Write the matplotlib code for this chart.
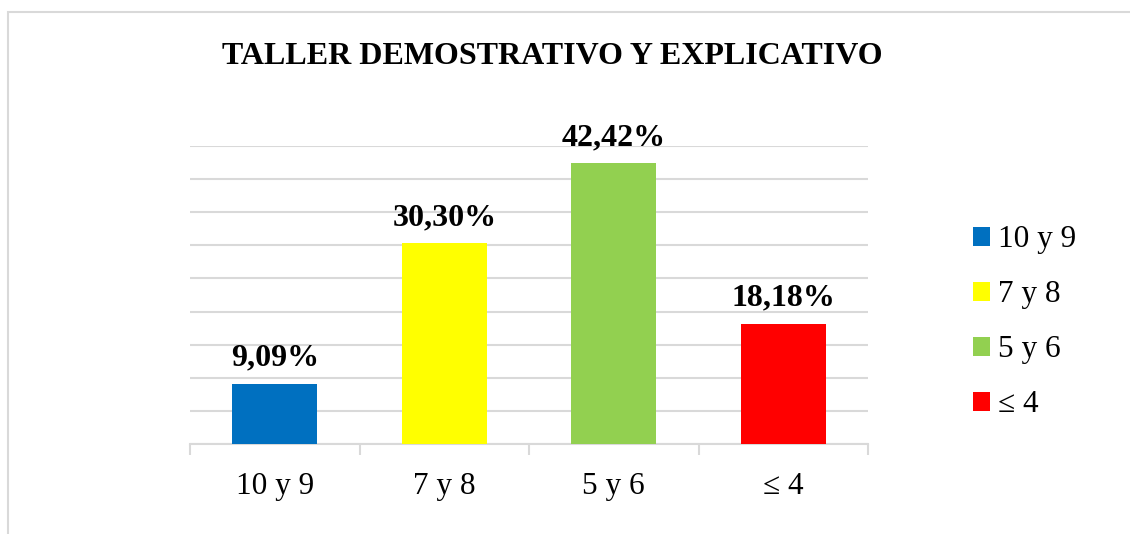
import numpy as np
import matplotlib
matplotlib.use('Agg')
import matplotlib.pyplot as plt
from matplotlib.patches import Patch, Rectangle

# Data
categories = ['10 y 9', '7 y 8', '5 y 6', '\u2264 4']
values = [9.09, 30.30, 42.42, 18.18]
labels = ['9,09%', '30,30%', '42,42%', '18,18%']
colors = ['#0070C0', '#FFFF00', '#92D050', '#FF0000']
title = 'TALLER DEMOSTRATIVO Y EXPLICATIVO'

plt.rcParams['font.family'] = ['Liberation Serif', 'DejaVu Serif']

# Figure
fig = plt.figure(figsize=(11.3, 5.34), dpi=100)
ax = fig.add_axes([190/1130., 1-444/534., (868-190)/1130., (444-146)/534.])

x = np.arange(len(categories))
bars = ax.bar(x, values, width=0.5, color=colors, zorder=3)

# data labels
for xi, v, lab in zip(x, values, labels):
    ax.annotate(lab, (xi, v), xytext=(0, 8), textcoords='offset points',
                ha='center', va='bottom', fontsize=23, fontweight='bold')

ax.set_xlim(-0.5, len(categories)-0.5)
ax.set_ylim(0, 45)
ax.set_yticks(np.arange(0, 46, 5))
ax.set_yticklabels([])
ax.tick_params(axis='y', length=0)
ax.yaxis.grid(True, color='#d9d9d9', linewidth=1.5, zorder=0)

# category ticks between bars
ax.set_xticks(x)
ax.set_xticklabels(categories, fontsize=22.5)
ax.tick_params(axis='x', length=0, pad=20)
ax.set_xticks(np.arange(-0.5, len(categories), 1), minor=True)
ax.tick_params(axis='x', which='minor', length=8, width=1.5, color='#d9d9d9')

for s in ['top', 'right', 'left']:
    ax.spines[s].set_visible(False)
ax.spines['bottom'].set_color('#d9d9d9')
ax.spines['bottom'].set_linewidth(1.5)

# title
fig.text(552/1130., 1-57/534., title, ha='center', va='center',
         fontsize=23, fontweight='bold')

# legend
handles = [Patch(facecolor=c, edgecolor='none', label=l) for c, l in zip(colors, categories)]
fig.legend(handles=handles, loc='upper left', bbox_to_anchor=(960/1130., 1-213/534.),
           frameon=False, fontsize=22.5, handlelength=0.55, handleheight=0.55,
           handletextpad=0.25, labelspacing=0.83, borderaxespad=0)

# outer chart border
fig.patches.append(Rectangle((8/1130., -0.01), 1.0, 1-12/534.+0.01, transform=fig.transFigure,
                             fill=False, edgecolor='#d9d9d9', linewidth=1.5))

fig.savefig('out.png', dpi=100)
